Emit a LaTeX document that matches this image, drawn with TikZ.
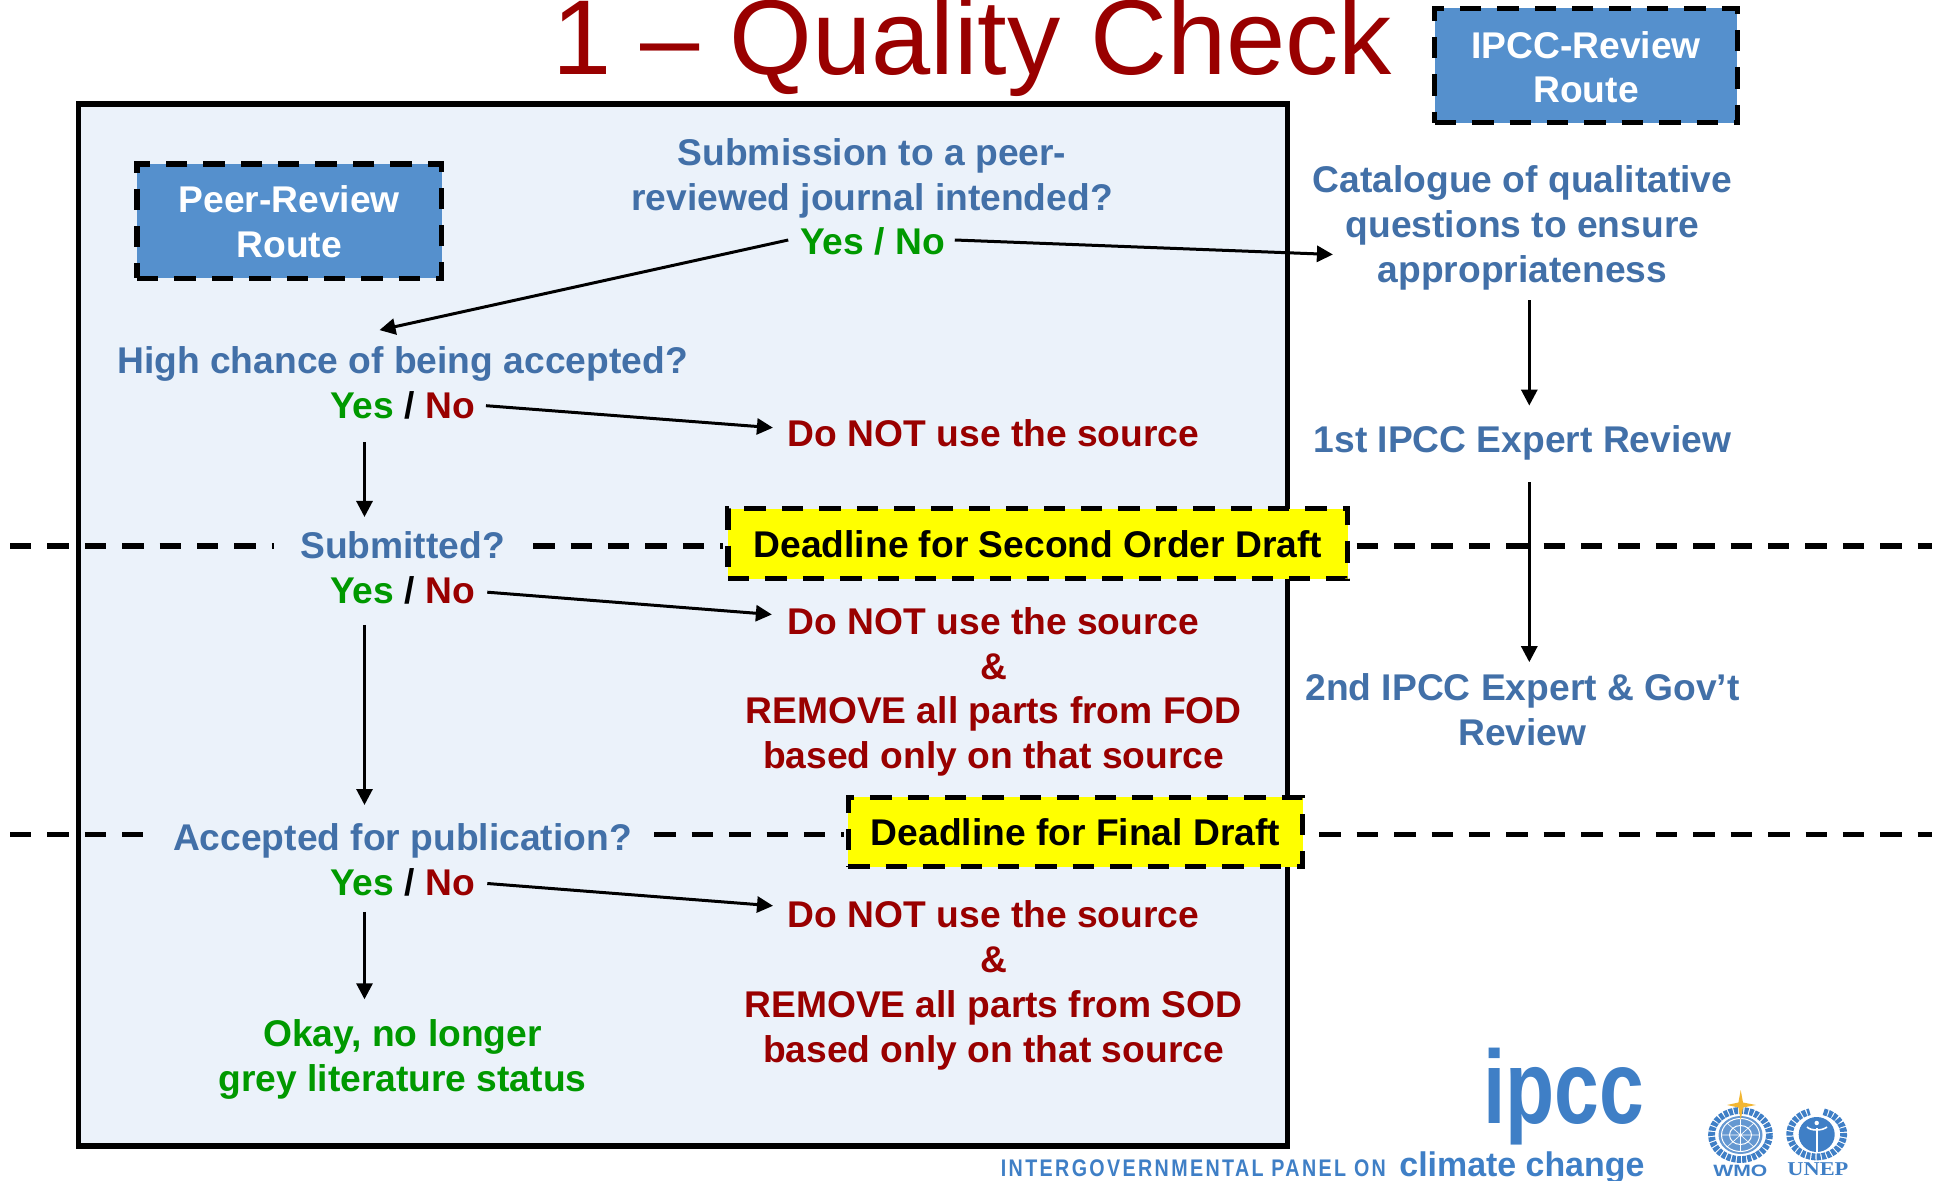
\documentclass[tikz,border=0pt]{standalone}
\usepackage{fontspec}
\usepackage{graphicx}
\setmainfont{Liberation Sans}
\usetikzlibrary{arrows.meta,calc}
\definecolor{rd}{HTML}{990000}
\definecolor{bl}{HTML}{4270A8}
\definecolor{grn}{HTML}{009900}
\definecolor{framefill}{HTML}{EBF2FA}
\definecolor{routefill}{HTML}{5590CD}
\definecolor{logoblue}{HTML}{3F7FC6}
\definecolor{deadfill}{RGB}{255,255,0}
\definecolor{starfill}{HTML}{F2B632}
\newcommand{\boxstrut}{\rule{0pt}{20.1pt}}
\tikzset{
  x=0.5pt,y=-0.5pt,
  lab/.style={inner sep=0pt,align=center,font=\fontsize{18.6}{22.4}\selectfont\bfseries},
  bluelab/.style={lab,text=bl},
  redlab/.style={lab,text=rd},
  grnlab/.style={lab,text=grn},
  dashbox/.style={lab,draw=black,line width=2.6pt,dash pattern=on 10.7pt off 8pt},
  routebox/.style={dashbox,fill=routefill,text=white,minimum height=57.2pt},
  deadbox/.style={dashbox,fill=deadfill,text=black},
  flow/.style={draw=black,line width=1.5pt,-{Triangle[length=8pt,width=8pt]}},
  sep/.style={draw=black,line width=2.6pt,dash pattern=on 10.7pt off 8pt},
  logotext/.style={inner sep=0pt,anchor=south west,text=logoblue},
  wreath/.style={draw=logoblue,line width=3.4pt,dash pattern=on 2pt off 0.6pt},
}
\begin{document}
\begin{tikzpicture}
\useasboundingbox (0,0) rectangle (1939,1181);
% frame
\node[draw=black,fill=framefill,line width=2.6pt,minimum width=604.6pt,minimum height=521pt,inner sep=0pt] (frame) at (683.1,625) {};
% title
\node[inner sep=0pt,anchor=base,text=rd,font=\fontsize{53.2}{60}\selectfont] (title) at (972,75) {1 – Quality Check};
% texts
\node[bluelab] (sub) at (872,179) {\strut Submission to a peer-\\\strut reviewed journal intended?};
\node[grnlab] (yn1) at (872.5,245.5) {\strut Yes / No};
\node[bluelab] (hc) at (402.5,365) {\strut High chance of being accepted?};
\node[lab] (yn2) at (402.5,410) {\strut\textcolor{grn}{Yes} / \textcolor{rd}{No}};
\node[redlab] (dn1) at (993.5,437.6) {\strut Do NOT use the source};
\node[bluelab] (subm) at (402.5,549.7) {\strut Submitted?};
\node[lab] (yn3) at (402.5,595) {\strut\textcolor{grn}{Yes} / \textcolor{rd}{No}};
\node[redlab] (dn2) at (993.5,692.6) {\strut Do NOT use the source\\\strut \&\\\strut REMOVE all parts from FOD\\\strut based only on that source};
\node[bluelab] (acc) at (402.5,841.4) {\strut Accepted for publication?};
\node[lab] (yn4) at (402.5,887) {\strut\textcolor{grn}{Yes} / \textcolor{rd}{No}};
\node[redlab] (dn3) at (993.5,985.85) {\strut Do NOT use the source\\\strut \&\\\strut REMOVE all parts from SOD\\\strut based only on that source};
\node[grnlab] (okay) at (402.5,1059.7) {\strut Okay, no longer\\\strut grey literature status};
\node[bluelab] (cat) at (1522.5,228.5) {\strut Catalogue of qualitative\\\strut questions to ensure\\\strut appropriateness};
\node[bluelab] (first) at (1522.5,443.7) {\strut 1st IPCC Expert Review};
\node[bluelab] (second) at (1522.5,713.65) {\strut 2nd IPCC Expert \& Gov’t\\\strut Review};
% separators
\coordinate (left1) at (10,546);
\coordinate (right1) at (1932,546);
\coordinate (left2) at (10,834.3);
\coordinate (right2) at (1932,834.3);
\node[deadbox,minimum width=309.85pt,minimum height=35pt] (dead1) at (1037.85,543.65) {\boxstrut\strut Deadline for Second Order Draft};
\node[deadbox,minimum width=227.2pt,minimum height=34.7pt] (dead2) at (1075.5,832) {\boxstrut\strut Deadline for Final Draft};
\path[sep] (left1) -- ([shift={(-26,-3.7)}]subm.west);
\path[sep] ([shift={(28,-3.7)}]subm.east) -- ([shift={(-2,2.35)}]dead1.west);
\path[sep] ([shift={(6.3,2.35)}]dead1.east) -- (right1);
\path[sep] (left2) -- ([shift={(-30,-7.1)}]acc.west);
\path[sep] ([shift={(22,-7.1)}]acc.east) -- ([shift={(-2,2.3)}]dead2.west);
\path[sep] ([shift={(14,2.3)}]dead2.east) -- (right2);
% route boxes
\node[routebox,minimum width=152.25pt] (peer) at (289.3,221.3) {\boxstrut Peer-Review\\\strut Route};
\node[routebox,minimum width=151.3pt] (ipccr) at (1586,65.7) {\rule{0pt}{21.5pt}IPCC-Review\\\strut Route};
% connectors
\path[flow] ([shift={(-11.5,-5.5)}]yn1.west) -- ([shift={(-23,-12.1)}]hc.north);
\path[flow] ([shift={(9.5,-5.5)}]yn1.east) -- ([shift={(20.6,26)}]cat.west);
\path[flow] ([shift={(10.7,-4.3)}]yn2.east) -- ([shift={(-14.5,-9.9)}]dn1.west);
\path[flow] ([shift={(-38,9.4)}]yn2.south) -- ([shift={(-38,-9.9)}]subm.north);
\path[flow] ([shift={(12,-2.8)}]yn3.east) -- ([shift={(26.8,-78.1)}]dn2.west);
\path[flow] ([shift={(-38,7.1)}]yn3.south) -- ([shift={(-38,-13.6)}]acc.north);
\path[flow] ([shift={(12,-3.5)}]yn4.east) -- ([shift={(29,-80.05)}]dn3.west);
\path[flow] ([shift={(-38,2.1)}]yn4.south) -- ([shift={(-38,-15.2)}]okay.north);
\path[flow] ([shift={(6.8,4.1)}]cat.south) -- ([shift={(6.8,-15.3)}]first.north);
\path[flow] ([shift={(6.8,15.6)}]first.south) -- ([shift={(6.8,-6.3)}]second.north);
% logo text
\node[logotext] (ipcclogo) at (1483,1145) {\resizebox*{80.5pt}{48.5pt}{\bfseries ipcc}};
\node[logotext] (ipccname) at (1000.5,1177) {\resizebox*{192.5pt}{8.5pt}{\bfseries\addfontfeature{LetterSpace=12}INTERGOVERNMENTAL PANEL ON}};
\node[logotext] (climate) at (1399,1183.7) {\resizebox*{122.5pt}{16pt}{\bfseries climate change}};
\node[logotext] (wmo) at (1713,1177.5) {\resizebox*{27pt}{5.8pt}{\bfseries WMO}};
\node[logotext] (unep) at (1787,1176.5) {\resizebox*{30.5pt}{6.5pt}{\fontspec{Liberation Serif}\bfseries UNEP}};
% WMO emblem
\path[wreath] (1740.5,1135) ellipse (29 and 24.5);
\fill[logoblue!80] (1740.5,1135) ellipse (22 and 19);
\draw[white,line width=0.5pt] (1740.5,1135) ellipse (19 and 16.5) (1740.5,1135) ellipse (11 and 9.5);
\draw[white,line width=0.3pt] (1721.5,1135) -- (1759.5,1135) (1740.5,1118.5) -- (1740.5,1151.5) (1727,1123) -- (1754,1147) (1754,1123) -- (1727,1147);
\fill[starfill] (1740.7,1090) -- (1743,1102.5) -- (1756,1105) -- (1743,1107.5) -- (1740.7,1120) -- (1738.4,1107.5) -- (1727,1105) -- (1738.4,1102.5) -- cycle;
% UNEP emblem
\path[wreath] ([shift={(285:27 and 23)}]1816.7,1134) arc[start angle=285,end angle=615,x radius=27,y radius=23];
\fill[logoblue] (1816.7,1134.5) ellipse (18 and 17.5);
\fill[white] (1816.7,1123) circle (2.2);
\draw[white,line width=0.8pt] (1807,1127) .. controls (1811,1131) and (1822,1131) .. (1827,1127);
\draw[white,line width=0.9pt] (1816.7,1128) -- (1816.7,1152);
\end{tikzpicture}
\end{document}
